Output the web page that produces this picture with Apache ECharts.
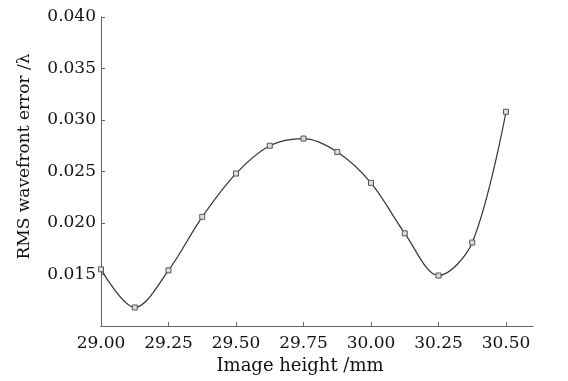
<!DOCTYPE html>
<html>
<head>
<meta charset="utf-8">
<script src="https://cdn.jsdelivr.net/npm/echarts@6/dist/echarts.min.js"></script>
<style>
  html, body { margin: 0; padding: 0; background: #fff; }
  #chart { width: 568px; height: 381px; }
</style>
</head>
<body>
<div id="chart"></div>
<script>
// image height (mm) vs RMS wavefront error (waves)
const imageHeight = [29.0, 29.125, 29.25, 29.375, 29.5, 29.625, 29.75, 29.875, 30.0, 30.125, 30.25, 30.375, 30.5];
const rmsError = [0.0155, 0.0118, 0.0154, 0.0206, 0.0248, 0.0275, 0.0282, 0.0269, 0.0239, 0.0190, 0.0149, 0.0181, 0.0308];
const xTicks = [29.0, 29.25, 29.5, 29.75, 30.0, 30.25, 30.5];
const yTicks = [0.015, 0.020, 0.025, 0.030, 0.035, 0.040];

const font = 'DejaVu Serif';
const chart = echarts.init(document.getElementById('chart'));

chart.setOption({
  backgroundColor: '#fff',
  animation: false,
  grid: { left: 101, right: 35, top: 17, bottom: 55, outerBoundsMode: 'none' },
  xAxis: {
    type: 'value',
    min: 29,
    max: 30.6,
    interval: 0.25,
    name: 'Image height /mm',
    nameLocation: 'middle',
    nameGap: 30,
    nameTextStyle: { fontFamily: font, fontSize: 18, color: '#111', padding: [0, 34, 0, 0] },
    axisLine: { lineStyle: { color: '#666', width: 1 } },
    axisTick: { inside: true, length: 4, lineStyle: { color: '#666' }, customValues: xTicks },
    axisLabel: {
      fontFamily: font, fontSize: 17, color: '#111', margin: 9,
      customValues: xTicks,
      formatter: v => v.toFixed(2)
    },
    splitLine: { show: false }
  },
  yAxis: {
    type: 'value',
    min: 0.010,
    max: 0.040,
    interval: 0.005,
    name: 'RMS wavefront error /λ',
    nameLocation: 'middle',
    nameGap: 68,
    nameTextStyle: { fontFamily: font, fontSize: 17, color: '#111', padding: [0, 0, 0, 30] },
    axisLine: { show: true, lineStyle: { color: '#666', width: 1 } },
    axisTick: { show: true, inside: true, length: 4, lineStyle: { color: '#666' }, customValues: yTicks },
    axisLabel: {
      fontFamily: font, fontSize: 17, color: '#111', margin: 5,
      customValues: yTicks,
      formatter: v => v.toFixed(3)
    },
    splitLine: { show: false }
  },
  series: [{
    type: 'line',
    data: imageHeight.map((x, i) => [x, rmsError[i]]),
    smooth: 0.34,
    symbol: 'rect',
    symbolSize: 5,
    itemStyle: { color: '#ddd', borderColor: '#555', borderWidth: 1 },
    lineStyle: { color: '#333', width: 1.2 }
  }]
});
</script>
</body>
</html>
